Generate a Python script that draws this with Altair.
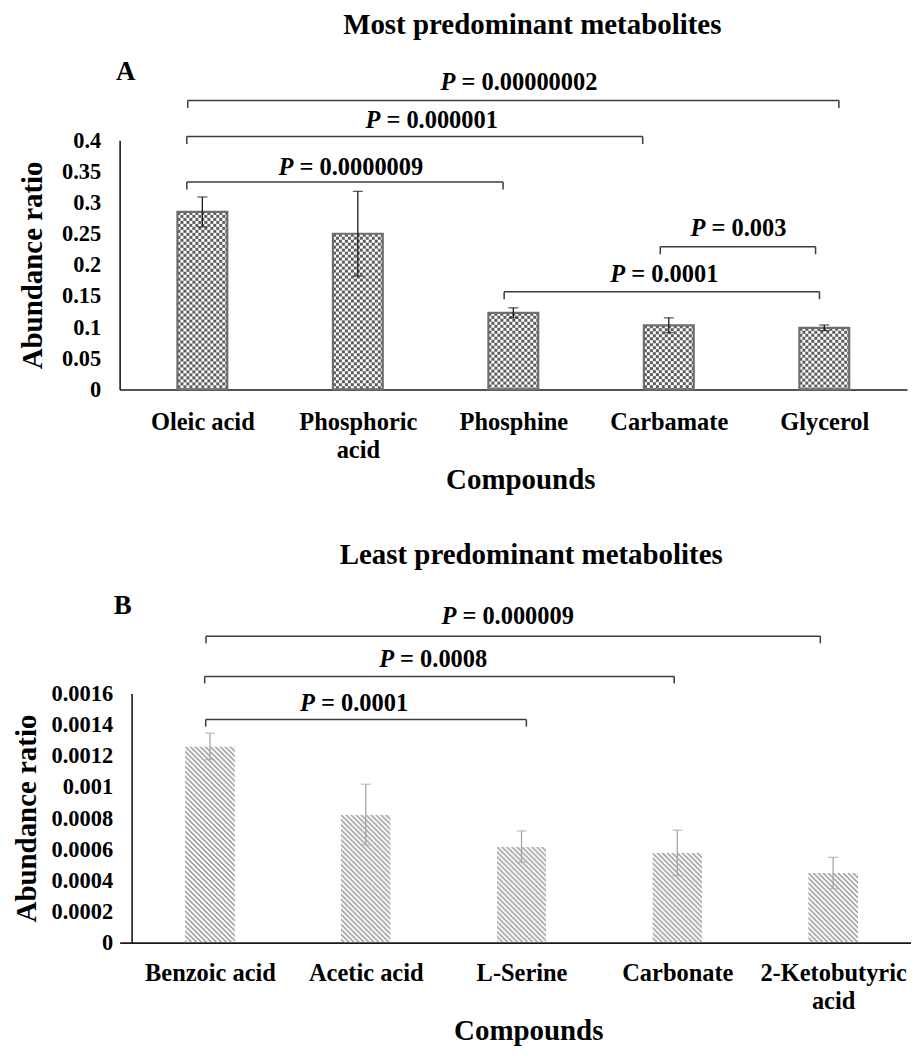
import base64
import json
import altair as alt
import pandas as pd

FONT = "Liberation Serif"

# ---------------- Panel A : most predominant metabolites ----------------
a_labels = ["Oleic acid", "Phosphoric|acid", "Phosphine", "Carbamate", "Glycerol"]
a_mean = [0.285, 0.250, 0.123, 0.103, 0.099]
a_err = [0.024, 0.068, 0.008, 0.012, 0.0045]
a_yticks = [0, 0.05, 0.1, 0.15, 0.2, 0.25, 0.3, 0.35, 0.4]
a_br_from = [-0.094, -0.100, -0.100, 2.945, 1.941]
a_br_to = [4.094, 2.832, 1.934, 3.944, 3.969]
a_br_y = [0.464, 0.406, 0.333, 0.229, 0.157]
a_p_val = ["0.00000002", "0.000001", "0.0000009", "0.003", "0.0001"]
a_p_x = [1.532, 1.049, 0.490, 3.140, 2.624]
a_p_y = [0.4915, 0.4312, 0.3547, 0.2576, 0.184]

# ---------------- Panel B : least predominant metabolites ----------------
b_labels = ["Benzoic acid", "Acetic acid", "L-Serine", "Carbonate", "2-Ketobutyric|acid"]
b_mean = [0.00126, 0.000822, 0.000617, 0.000576, 0.000448]
b_err = [0.000085, 0.000195, 0.0001, 0.000146, 0.0001]
b_yticks = [0, 0.0002, 0.0004, 0.0006, 0.0008, 0.001, 0.0012, 0.0014, 0.0016]
b_br_from = [-0.0275, -0.034, -0.0256]
b_br_to = [2.031, 2.980, 3.918]
b_br_y = [0.001432, 0.001709, 0.001967]
b_p_val = ["0.0001", "0.0008", "0.000009"]
b_p_x = [0.578, 1.086, 1.486]
b_p_y = [0.001535, 0.001812, 0.002088]


def svg_uri(svg):
    return "data:image/svg+xml;base64," + base64.b64encode(svg.encode("utf-8")).decode("ascii")


CHECKER = svg_uri(
    '<svg xmlns="http://www.w3.org/2000/svg" width="100%" height="100%">'
    '<defs><pattern id="c" width="6" height="6" patternUnits="userSpaceOnUse">'
    '<rect width="6" height="6" fill="#ffffff"/>'
    '<rect width="3" height="3" fill="#5c5c5c"/>'
    '<rect x="3" y="3" width="3" height="3" fill="#5c5c5c"/>'
    '</pattern></defs><rect width="100%" height="100%" fill="url(#c)"/></svg>'
)
HATCH = svg_uri(
    '<svg xmlns="http://www.w3.org/2000/svg" width="100%" height="100%">'
    '<defs><pattern id="h" width="5" height="5" patternUnits="userSpaceOnUse">'
    '<path d="M-1,-1L6,6M-1,4L1,6M4,-1L6,1" stroke="#8c8c8c" stroke-width="1.3" fill="none"/>'
    '</pattern></defs><rect width="100%" height="100%" fill="url(#h)"/></svg>'
)


def panel(labels, mean, err, yticks, ymax, xdom, width, br_from, br_to, br_y, drop,
          p_val, p_x, p_y, letter, letter_x, letter_y, title, title_dx, title_offset,
          fill_uri, outline, err_color, y_offset, x_label_pad, x_title_pad, x_title_x, y_title_pad):
    xscale = alt.Scale(domain=xdom, nice=False, zero=False)
    yscale = alt.Scale(domain=[0, ymax], nice=False, zero=True)
    label_expr = "split(" + json.dumps(labels) + "[datum.value], '|')"
    xaxis = alt.Axis(values=[0, 1, 2, 3, 4], labelExpr=label_expr, ticks=False, grid=False,
                     domainColor="#1a1a1a", domainWidth=1.6, labelFont=FONT, labelFontSize=24.5,
                     labelFontWeight="bold", labelColor="black", labelPadding=x_label_pad,
                     labelLineHeight=28, labelOverlap=False, labelFlush=False,
                     titleFont=FONT, titleFontSize=29, titleFontWeight="bold",
                     titleColor="black", titlePadding=x_title_pad, titleX=x_title_x)
    yaxis = alt.Axis(values=yticks, format="~g", ticks=False, grid=False,
                     domainColor="#1a1a1a", domainWidth=1.6, labelFont=FONT, labelFontSize=22.5,
                     labelFontWeight="bold", labelColor="black", labelPadding=19,
                     labelOverlap=False, labelFlush=False, offset=y_offset,
                     titleFont=FONT, titleFontSize=29, titleFontWeight="bold",
                     titleColor="black", titlePadding=y_title_pad)

    def X(f):
        return alt.X(f, type="quantitative", scale=xscale, axis=xaxis, title="Compounds")

    def Y(f):
        return alt.Y(f, type="quantitative", scale=yscale, axis=yaxis, title="Abundance ratio")

    bars_df = pd.DataFrame({"idx": list(range(len(mean))), "mean": mean, "err": err})
    base = alt.Chart(bars_df).transform_calculate(
        lo="datum.mean - datum.err", hi="datum.mean + datum.err")

    layers = []
    layers.append(base.mark_image(width=50, aspect=False).encode(
        x=X("idx"), y=Y("mean"), y2=alt.datum(0), url=alt.value(fill_uri)))
    if outline:
        layers.append(base.mark_bar(width=50, fillOpacity=0, stroke="#6e6e6e", strokeWidth=2.2).encode(
            x=X("idx"), y=Y("mean"), y2=alt.datum(0)))
    layers.append(base.mark_rule(color=err_color, strokeWidth=1.3).encode(
        x=X("idx"), y=Y("lo"), y2=alt.Y2("hi")))
    for f in ("lo", "hi"):
        layers.append(base.mark_tick(orient="horizontal", size=10, thickness=1.3, color=err_color).encode(
            x=X("idx"), y=Y(f)))

    seg = []
    for f, t, y in zip(br_from, br_to, br_y):
        seg.append(dict(sx=f, sx2=t, sy=y, sy2=y))
        seg.append(dict(sx=f, sx2=f, sy=y, sy2=y - drop))
        seg.append(dict(sx=t, sx2=t, sy=y, sy2=y - drop))
    layers.append(alt.Chart(pd.DataFrame(seg)).mark_rule(color="#3c3c3c", strokeWidth=1.5).encode(
        x=X("sx"), x2=alt.X2("sx2"), y=Y("sy"), y2=alt.Y2("sy2")))

    pdf = pd.DataFrame({"px": p_x, "py": p_y, "val": p_val})
    layers.append(alt.Chart(pdf).mark_text(font=FONT, fontSize=24.5, fontWeight="bold", fontStyle="italic",
                                           align="left", baseline="middle", color="black").encode(
        x=X("px"), y=Y("py"), text=alt.value("P")))
    layers.append(alt.Chart(pdf).transform_calculate(t="'= ' + datum.val").mark_text(
        font=FONT, fontSize=24.5, fontWeight="bold", align="left", baseline="middle", dx=21,
        color="black").encode(x=X("px"), y=Y("py"), text="t:N"))

    ldf = pd.DataFrame({"lx": [letter_x], "ly": [letter_y], "l": [letter]})
    layers.append(alt.Chart(ldf).mark_text(font=FONT, fontSize=27, fontWeight="bold", align="left",
                                           baseline="middle", color="black").encode(
        x=X("lx"), y=Y("ly"), text="l:N"))

    return alt.layer(*layers).properties(
        width=width, height=250,
        title=alt.TitleParams(title, font=FONT, fontSize=29, fontWeight="bold", color="black",
                              anchor="middle", frame="group", dx=title_dx, offset=title_offset))


top = panel(a_labels, a_mean, a_err, a_yticks, 0.4, [-0.5, 4.5], 790,
            a_br_from, a_br_to, a_br_y, 0.012, a_p_val, a_p_x, a_p_y,
            "A", -0.556, 0.509, "Most predominant metabolites", 19, 19,
            CHECKER, True, "#1a1a1a", 0, 21, 4, 402, 14)

bottom = panel(b_labels, b_mean, b_err, b_yticks, 0.0016, [-0.58, 4.5], 794,
               b_br_from, b_br_to, b_br_y, 0.000045, b_p_val, b_p_x, b_p_y,
               "B", -0.617, 0.00216, "Least predominant metabolites", 16, 22,
               HATCH, False, "#a6a6a6", -12, 19, 4, 410, 10)

chart = alt.vconcat(top, bottom, spacing=46).properties(
    padding={"left": 4, "top": 0, "right": 0, "bottom": 0}
).configure_view(stroke=None)

chart.save("out.html", embed_options={"renderer": "svg", "actions": False})
